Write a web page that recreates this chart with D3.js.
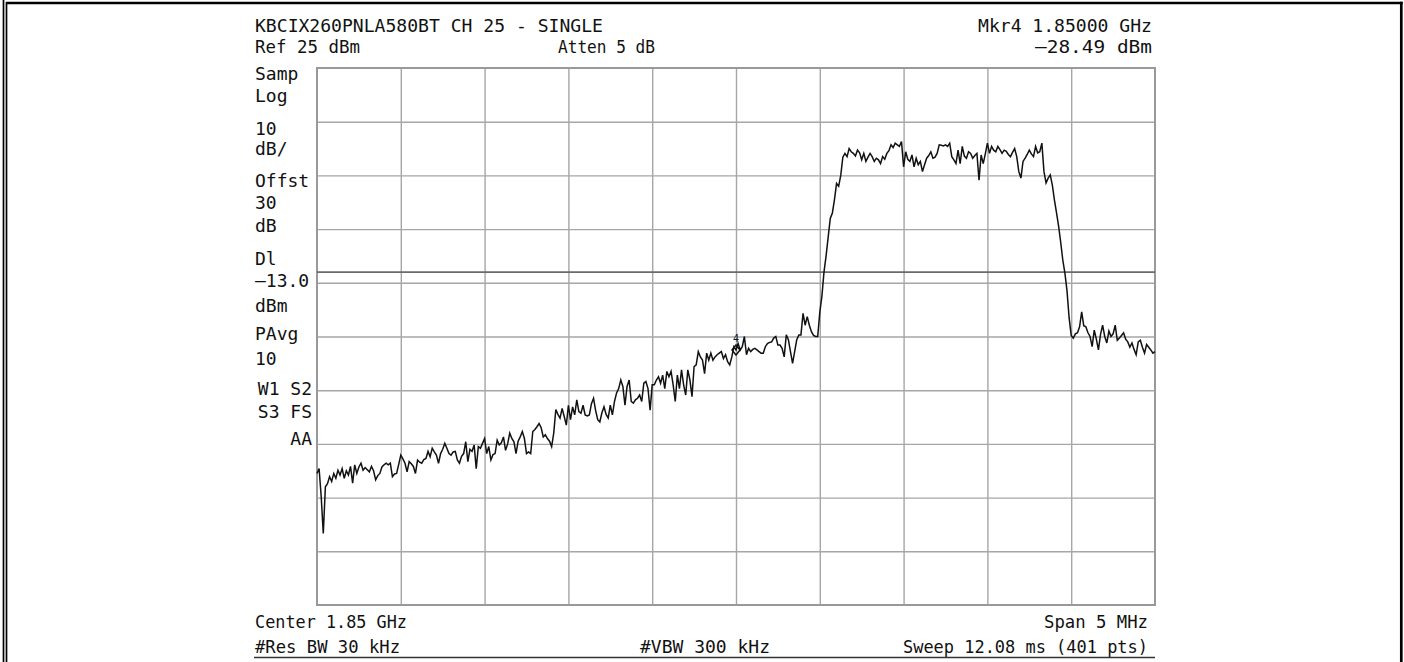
<!DOCTYPE html>
<html>
<head>
<meta charset="utf-8">
<script src="https://cdn.jsdelivr.net/npm/d3@7"></script>
<style>
  body { margin: 0; background: #fff; }
  text { font-family: "DejaVu Sans Mono", monospace; font-size: 18px; fill: #111; white-space: pre; }
</style>
</head>
<body>
<div id="chart"></div>
<script>
// instrument settings
var centerMHz = 1850;
var spanMHz = 5;
var refLevel = 25;
var dbPerDiv = 10;
var displayLine = -13;
var markerIndex = 200;

// 401 sweep points, dBm
var trace = [
  -50.5, -49.6, -54.8, -61.7, -53.0, -52.4, -51.1, -52.0, -50.5, -51.4,
  -49.9, -50.8, -49.6, -51.4, -50.0, -50.8, -49.2, -52.3, -48.9, -50.5,
  -49.3, -48.6, -49.9, -49.4, -49.8, -50.2, -49.2, -50.0, -51.7, -50.9,
  -50.5, -49.3, -48.9, -48.6, -48.9, -48.6, -51.1, -50.6, -50.5, -48.8,
  -47.1, -47.8, -48.6, -50.2, -48.3, -48.7, -49.2, -50.5, -48.0, -48.4,
  -48.6, -47.9, -47.7, -46.4, -47.4, -45.8, -46.5, -47.1, -48.6, -46.8,
  -46.0, -44.9, -45.8, -46.8, -47.1, -46.5, -46.4, -48.0, -48.6, -47.3,
  -46.8, -44.6, -48.3, -46.0, -46.4, -45.2, -49.6, -45.5, -45.8, -44.9,
  -44.0, -46.8, -45.5, -48.0, -47.0, -46.8, -44.3, -45.2, -44.8, -43.7,
  -46.2, -45.0, -43.0, -44.0, -44.6, -46.8, -44.5, -43.7, -42.7, -44.0,
  -46.8, -46.5, -46.8, -42.7, -42.3, -41.8, -41.2, -42.0, -43.7, -43.3,
  -44.0, -44.5, -45.5, -43.0, -38.6, -39.5, -40.2, -38.4, -39.9, -41.5,
  -37.8, -40.5, -38.1, -39.6, -36.8, -39.0, -39.3, -37.8, -39.6, -39.8,
  -39.6, -37.5, -36.5, -38.8, -40.5, -40.9, -39.2, -38.1, -39.5, -40.2,
  -37.8, -39.6, -37.1, -35.5, -34.7, -33.1, -34.3, -37.8, -34.3, -33.1,
  -37.1, -37.4, -36.8, -36.5, -35.9, -37.1, -33.7, -33.4, -34.7, -38.7,
  -34.0, -34.0, -33.1, -32.5, -33.7, -32.2, -34.7, -31.5, -32.5, -31.5,
  -34.0, -37.1, -32.2, -34.7, -31.2, -34.0, -35.9, -31.2, -33.1, -36.2,
  -30.6, -30.3, -27.8, -28.8, -29.4, -31.9, -28.1, -29.4, -28.1, -29.4,
  -28.8, -28.4, -28.1, -27.8, -29.1, -28.4, -29.7, -30.3, -28.8, -26.9,
  -27.5, -26.3, -27.5, -26.9, -25.0, -28.4, -27.2, -27.8, -27.4, -27.2,
  -27.5, -27.8, -28.1, -28.1, -26.9, -26.3, -26.1, -26.0, -25.3, -25.0,
  -26.6, -26.6, -27.2, -28.8, -24.7, -25.6, -27.8, -30.0, -27.8, -25.6,
  -24.7, -24.7, -20.7, -22.9, -21.3, -22.9, -24.1, -24.8, -25.0, -25.0,
  -20.5, -17.5, -13.0, -10.0, -6.5, -3.0, -2.0, 0.5, 3.5, 3.0,
  5.0, 8.4, 9.1, 8.5, 10.0, 9.4, 9.1, 8.6, 9.7, 9.2,
  7.9, 9.1, 7.6, 8.4, 9.1, 8.5, 7.6, 8.2, 7.9, 7.2,
  8.5, 8.0, 9.1, 9.6, 10.7, 10.2, 11.0, 10.7, 10.4, 11.3,
  6.6, 9.4, 8.0, 7.6, 8.8, 6.6, 8.2, 7.0, 7.6, 5.7,
  7.0, 8.2, 8.7, 9.4, 8.2, 8.4, 9.1, 10.7, 10.6, 10.5,
  10.7, 10.4, 11.0, 8.5, 7.9, 7.2, 9.7, 7.2, 10.4, 8.6,
  8.2, 9.4, 9.1, 8.2, 8.7, 9.1, 4.1, 8.8, 7.2, 9.0,
  11.0, 9.1, 10.4, 9.7, 9.4, 10.4, 9.8, 9.1, 9.7, 9.5,
  8.9, 8.5, 9.3, 10.0, 8.5, 5.7, 4.5, 7.6, 8.2, 8.9,
  9.7, 9.0, 8.5, 10.4, 9.2, 9.4, 11.0, 5.7, 3.6, 4.5,
  5.1, 3.2, 0.4, -2.0, -4.5, -7.5, -10.8, -13.2, -16.5, -21.5,
  -24.8, -25.3, -24.5, -24.3, -23.2, -20.4, -23.0, -23.2, -24.3, -25.0,
  -26.9, -23.8, -25.5, -27.5, -24.6, -22.9, -25.0, -26.2, -24.0, -25.0,
  -24.5, -22.9, -25.7, -25.3, -24.8, -24.3, -25.5, -26.0, -27.0, -26.2,
  -27.4, -28.4, -26.0, -25.7, -27.0, -28.1, -26.5, -27.0, -27.5, -28.1,
  -27.8
];

// screen annotations
var topLeft = ["KBCIX260PNLA580BT CH 25 - SINGLE", "Ref 25 dBm"];
var topMid = "Atten 5 dB";
var topRight = ["Mkr4 1.85000 GHz", "\u201328.49 dBm"];
var sideLabels = ["Samp", "Log", "10", "dB/", "Offst", "30", "dB", "Dl", "\u201313.0", "dBm", "PAvg", "10", "W1 S2", "S3 FS", "AA"];
var bottomLeft = ["Center 1.85 GHz", "#Res BW 30 kHz"];
var bottomMid = "#VBW 300 kHz";
var bottomRight = ["Span 5 MHz", "Sweep 12.08 ms (401 pts)"];

var W = 1404, H = 662;
var plot = {left: 317, right: 1155, top: 68, bottom: 605};

var svg = d3.select("#chart")
      .append("svg")
      .attr("width", W)
      .attr("height", H);

// outer frame
svg.append("line").attr("x1", 3.5).attr("x2", 3.5).attr("y1", 0).attr("y2", H)
   .attr("stroke", "#000").attr("stroke-width", 1.7);
svg.append("line").attr("x1", 6.5).attr("x2", 6.5).attr("y1", 2).attr("y2", H)
   .attr("stroke", "#000").attr("stroke-width", 1.7);
svg.append("line").attr("x1", 6).attr("x2", 1402.7).attr("y1", 3).attr("y2", 3)
   .attr("stroke", "#000").attr("stroke-width", 2.6);
svg.append("line").attr("x1", 1401.3).attr("x2", 1401.3).attr("y1", 1.7).attr("y2", H)
   .attr("stroke", "#000").attr("stroke-width", 2.7);

var fStart = centerMHz - spanMHz / 2;
var x = d3.scaleLinear()
      .domain([fStart, fStart + spanMHz])
      .range([plot.left, plot.right]);
var y = d3.scaleLinear()
      .domain([refLevel - 10 * dbPerDiv, refLevel])
      .range([plot.bottom, plot.top]);

function freqAt(i) {
  return fStart + i * spanMHz / (trace.length - 1);
}

// graticule through the axes
var xGrid = d3.axisBottom(x)
      .tickValues(d3.range(1, 10).map(function(k) { return fStart + k * spanMHz / 10; }))
      .tickSize(-(plot.bottom - plot.top))
      .tickFormat("");
var yGrid = d3.axisLeft(y)
      .tickValues(d3.range(1, 10).map(function(k) { return refLevel - k * dbPerDiv; }))
      .tickSize(-(plot.right - plot.left))
      .tickFormat("");

svg.append("g")
   .attr("transform", "translate(0," + plot.bottom + ")")
   .call(xGrid)
   .call(function(g) { g.select(".domain").remove(); })
   .selectAll("line").attr("stroke", "#a6a6a6").attr("stroke-width", 1.4);
svg.append("g")
   .attr("transform", "translate(" + plot.left + ",0)")
   .call(yGrid)
   .call(function(g) { g.select(".domain").remove(); })
   .selectAll("line").attr("stroke", "#a6a6a6").attr("stroke-width", 1.4);

svg.append("rect")
   .attr("x", plot.left)
   .attr("y", plot.top)
   .attr("width", plot.right - plot.left)
   .attr("height", plot.bottom - plot.top)
   .attr("fill", "none")
   .attr("stroke", "#999")
   .attr("stroke-width", 2);

// display line
svg.append("line")
   .attr("x1", plot.left).attr("x2", plot.right)
   .attr("y1", y(displayLine)).attr("y2", y(displayLine))
   .attr("stroke", "#6a6a6a")
   .attr("stroke-width", 1.8);

// trace
var line = d3.line()
      .x(function(d, i) { return x(freqAt(i)); })
      .y(function(d) { return y(d); });

svg.append("path")
   .datum(trace)
   .attr("d", line)
   .attr("fill", "none")
   .attr("stroke", "#111")
   .attr("stroke-width", 1.5)
   .attr("stroke-linejoin", "miter");

// marker 4
var mx = x(freqAt(markerIndex)), my = y(trace[markerIndex]);
svg.append("path")
   .attr("d", "M" + mx + "," + (my - 5) + "L" + (mx + 4) + "," + my + "L" + mx + "," + (my + 5) + "L" + (mx - 4) + "," + my + "Z")
   .attr("fill", "none")
   .attr("stroke", "#111")
   .attr("stroke-width", 1.5);
svg.append("text")
   .attr("x", mx - 3).attr("y", my - 8)
   .style("font-size", "10px")
   .text("4");

// texts
function label(t, tx, ty, anchor, len) {
  var el = svg.append("text")
     .attr("x", tx)
     .attr("y", ty)
     .attr("text-anchor", anchor)
     .text(t);
  if (len !== undefined) {
    el.attr("textLength", len).attr("lengthAdjust", "spacingAndGlyphs");
  }
  return el;
}

label(topLeft[0], 255, 32, "start", 348);
label(topLeft[1], 255, 53, "start", 105);
label(topMid, 558, 53, "start", 97);
label(topRight[0], 1152, 32, "end", 174);
label(topRight[1], 1152, 53, "end", 117);

var sideY = [80, 102, 135, 155, 187, 209, 232, 265, 287, 312, 340, 365, 395, 418, 445];
sideLabels.forEach(function(t, i) {
  if (i >= 12) {
    label(t, 312, sideY[i], "end");
  } else {
    label(t, 255, sideY[i], "start");
  }
});

label(bottomLeft[0], 255, 628, "start", 152);
label(bottomLeft[1], 255, 653, "start", 145);
label(bottomMid, 640, 653, "start", 130);
label(bottomRight[0], 1148, 628, "end", 104);
label(bottomRight[1], 1148, 653, "end", 245);

svg.append("line")
   .attr("x1", 254).attr("x2", plot.right)
   .attr("y1", 657.5).attr("y2", 657.5)
   .attr("stroke", "#333")
   .attr("stroke-width", 1.5);
</script>
</body>
</html>
